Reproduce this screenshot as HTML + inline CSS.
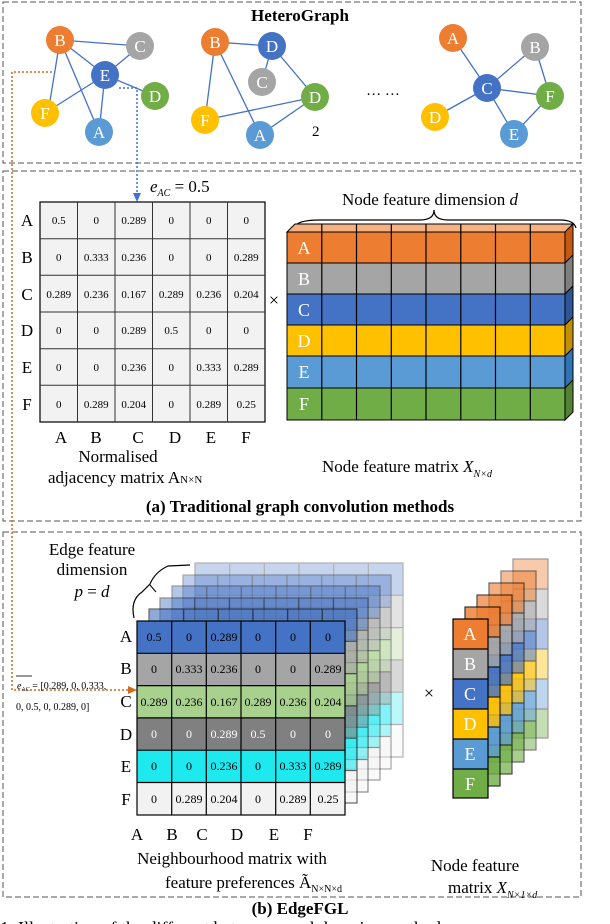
<!DOCTYPE html>
<html><head><meta charset="utf-8"><style>
html,body{margin:0;padding:0;background:#fff}
svg{display:block}
text{font-family:"Liberation Serif",serif}
</style></head><body>
<svg width="610" height="924" viewBox="0 0 610 924" xmlns="http://www.w3.org/2000/svg">
<defs>
<g id="bface">
 <rect x="137" y="621" width="208" height="32.3" fill="#4472c4"/>
 <rect x="137" y="653.3" width="208" height="32.3" fill="#a5a5a5"/>
 <rect x="137" y="685.6" width="208" height="32.3" fill="#a9d18e"/>
 <rect x="137" y="717.9" width="208" height="32.3" fill="#808080"/>
 <rect x="137" y="750.2" width="208" height="32.3" fill="#1de9ef"/>
 <rect x="137" y="782.5" width="208" height="32.5" fill="#f2f2f2"/>
 <path d="M171.7 621V815M206.3 621V815M241 621V815M275.7 621V815M310.3 621V815M137 653.3H345M137 685.6H345M137 717.9H345M137 750.2H345M137 782.5H345" stroke="#000" stroke-width="1.2" fill="none"/>
 <rect x="137" y="621" width="208" height="194" fill="none" stroke="#000" stroke-width="1.2"/>
</g>
<g id="sface">
 <rect x="453" y="619" width="35" height="30" fill="#ed7d31"/>
 <rect x="453" y="649" width="35" height="30" fill="#a5a5a5"/>
 <rect x="453" y="679" width="35" height="30" fill="#4472c4"/>
 <rect x="453" y="709" width="35" height="30" fill="#ffc000"/>
 <rect x="453" y="739" width="35" height="30" fill="#5b9bd5"/>
 <rect x="453" y="769" width="35" height="29" fill="#70ad47"/>
 <path d="M453 649H488M453 679H488M453 709H488M453 739H488M453 769H488" stroke="#000" stroke-width="1.2"/>
 <rect x="453" y="619" width="35" height="179" fill="none" stroke="#000" stroke-width="1.2"/>
</g>
</defs>

<!-- panel boxes -->
<rect x="3" y="2" width="578" height="161" fill="none" stroke="#555" stroke-dasharray="6,3"/>
<rect x="3" y="171" width="578" height="350" fill="none" stroke="#555" stroke-dasharray="6,3"/>
<rect x="3" y="532" width="578" height="365" fill="none" stroke="#555" stroke-dasharray="6,3"/>

<text x="300" y="21" font-size="17" font-weight="bold" text-anchor="middle">HeteroGraph</text>

<!-- graph edges -->
<g stroke="#4472c4" stroke-width="1.3">
 <line x1="60" y1="40" x2="140" y2="46"/><line x1="60" y1="40" x2="105" y2="75"/>
 <line x1="60" y1="40" x2="48" y2="113"/><line x1="60" y1="40" x2="99" y2="132"/>
 <line x1="105" y1="75" x2="140" y2="46"/><line x1="105" y1="75" x2="155" y2="96"/>
 <line x1="105" y1="75" x2="45" y2="113"/><line x1="105" y1="75" x2="99" y2="132"/>
 <line x1="215" y1="42" x2="272" y2="46"/><line x1="215" y1="42" x2="205" y2="120"/>
 <line x1="215" y1="42" x2="260" y2="135"/><line x1="272" y1="46" x2="262" y2="82"/>
 <line x1="272" y1="46" x2="315" y2="97"/><line x1="205" y1="120" x2="315" y2="97"/>
 <line x1="260" y1="135" x2="315" y2="97"/>
 <line x1="453" y1="38" x2="487" y2="88"/><line x1="487" y1="88" x2="535" y2="47"/>
 <line x1="487" y1="88" x2="550" y2="96"/><line x1="487" y1="88" x2="435" y2="117"/>
 <line x1="487" y1="88" x2="514" y2="134"/><line x1="535" y1="47" x2="550" y2="96"/>
 <line x1="550" y1="96" x2="514" y2="134"/>
</g>
<!-- nodes -->
<g font-size="17" fill="#fff" text-anchor="middle">
 <ellipse cx="60" cy="40" rx="14" ry="14" fill="#ed7d31"/><text x="60" y="46" fill="#fff">B</text>
 <ellipse cx="140" cy="46" rx="14" ry="14" fill="#a5a5a5"/><text x="140" y="52" fill="#fff">C</text>
 <ellipse cx="105" cy="75" rx="14" ry="14" fill="#4472c4"/><text x="105" y="81" fill="#fff">E</text>
 <ellipse cx="155" cy="96" rx="14" ry="14" fill="#70ad47"/><text x="155" y="102" fill="#fff">D</text>
 <ellipse cx="45" cy="113" rx="14" ry="14" fill="#ffc000"/><text x="45" y="119" fill="#fff">F</text>
 <ellipse cx="99" cy="132" rx="14" ry="14" fill="#5b9bd5"/><text x="99" y="138" fill="#fff">A</text>

 <ellipse cx="215" cy="42" rx="14" ry="14" fill="#ed7d31"/><text x="215" y="48" fill="#fff">B</text>
 <ellipse cx="272" cy="46" rx="14" ry="14" fill="#4472c4"/><text x="272" y="52" fill="#fff">D</text>
 <ellipse cx="262" cy="82" rx="14" ry="14" fill="#a5a5a5"/><text x="262" y="88" fill="#fff">C</text>
 <ellipse cx="315" cy="97" rx="14" ry="14" fill="#70ad47"/><text x="315" y="103" fill="#fff">D</text>
 <ellipse cx="205" cy="120" rx="14" ry="14" fill="#ffc000"/><text x="205" y="126" fill="#fff">F</text>
 <ellipse cx="260" cy="135" rx="14" ry="14" fill="#5b9bd5"/><text x="260" y="141" fill="#fff">A</text>

 <ellipse cx="453" cy="38" rx="14" ry="14" fill="#ed7d31"/><text x="453" y="44" fill="#fff">A</text>
 <ellipse cx="535" cy="47" rx="14" ry="14" fill="#a5a5a5"/><text x="535" y="53" fill="#fff">B</text>
 <ellipse cx="487" cy="88" rx="14" ry="14" fill="#4472c4"/><text x="487" y="94" fill="#fff">C</text>
 <ellipse cx="550" cy="96" rx="14" ry="14" fill="#70ad47"/><text x="550" y="102" fill="#fff">F</text>
 <ellipse cx="435" cy="117" rx="14" ry="14" fill="#ffc000"/><text x="435" y="123" fill="#fff">D</text>
 <ellipse cx="514" cy="134" rx="14" ry="14" fill="#5b9bd5"/><text x="514" y="140" fill="#fff">E</text>
</g>
<text x="312" y="136" font-size="15">2</text>
<text x="383" y="95" font-size="15" text-anchor="middle">… …</text>

<!-- dotted connectors -->
<path d="M52 72H12V690H128" fill="none" stroke="#d46a1c" stroke-width="1.5" stroke-dasharray="2,2"/>
<polygon points="137,690 128,686 128,694" fill="#d46a1c"/>
<path d="M119 88H137V194" fill="none" stroke="#3f72d4" stroke-width="1.5" stroke-dasharray="2,2"/>
<polygon points="137,202 133,193 141,193" fill="#3f72d4"/>

<!-- panel a matrix -->
<text x="150" y="192" font-size="17"><tspan font-style="italic">e</tspan><tspan font-size="10" font-style="italic" dy="4">AC</tspan><tspan dy="-4"> = 0.5</tspan></text>
<rect x="40" y="202" width="225" height="220" fill="#f2f2f2" stroke="#000" stroke-width="1.2"/>
<path d="M77.5 202V422M115 202V422M152.5 202V422M190 202V422M227.5 202V422M40 238.7H265M40 275.3H265M40 312H265M40 348.7H265M40 385.3H265" stroke="#333" stroke-width="1"/>
<g font-size="17" text-anchor="middle">
 <text x="27" y="226">A</text><text x="27" y="263">B</text><text x="27" y="300">C</text><text x="27" y="336">D</text><text x="27" y="373">E</text><text x="27" y="410">F</text>
 <text x="61" y="443">A</text><text x="96" y="443">B</text><text x="138" y="443">C</text><text x="175" y="443">D</text><text x="211" y="443">E</text><text x="246" y="443">F</text>
</g>
<g font-size="11" text-anchor="middle">
 <text x="58.8" y="224">0.5</text><text x="96.3" y="224">0</text><text x="133.8" y="224">0.289</text><text x="171.3" y="224">0</text><text x="208.8" y="224">0</text><text x="246.3" y="224">0</text>
 <text x="58.8" y="261">0</text><text x="96.3" y="261">0.333</text><text x="133.8" y="261">0.236</text><text x="171.3" y="261">0</text><text x="208.8" y="261">0</text><text x="246.3" y="261">0.289</text>
 <text x="58.8" y="298">0.289</text><text x="96.3" y="298">0.236</text><text x="133.8" y="298">0.167</text><text x="171.3" y="298">0.289</text><text x="208.8" y="298">0.236</text><text x="246.3" y="298">0.204</text>
 <text x="58.8" y="334">0</text><text x="96.3" y="334">0</text><text x="133.8" y="334">0.289</text><text x="171.3" y="334">0.5</text><text x="208.8" y="334">0</text><text x="246.3" y="334">0</text>
 <text x="58.8" y="371">0</text><text x="96.3" y="371">0</text><text x="133.8" y="371">0.236</text><text x="171.3" y="371">0</text><text x="208.8" y="371">0.333</text><text x="246.3" y="371">0.289</text>
 <text x="58.8" y="408">0</text><text x="96.3" y="408">0.289</text><text x="133.8" y="408">0.204</text><text x="171.3" y="408">0</text><text x="208.8" y="408">0.289</text><text x="246.3" y="408">0.25</text>
</g>
<text x="118" y="462" font-size="17" text-anchor="middle">Normalised</text>
<text x="48" y="483" font-size="17">adjacency matrix A<tspan font-size="11">N×N</tspan></text>
<text x="274" y="306" font-size="18" text-anchor="middle">×</text>

<!-- panel a feature matrix -->
<text x="430" y="205" font-size="17" text-anchor="middle">Node feature dimension <tspan font-style="italic">d</tspan></text>
<path d="M294 228Q296 220 320 220H420Q434 220 434 210Q434 220 448 220H560Q574 220 576 228" fill="none" stroke="#000" stroke-width="1.2"/>
<polygon points="287,232 295,224 573,224 565,232" fill="#f4b183" stroke="#000" stroke-width="1"/>
<g stroke="#000" stroke-width="1">
 <polygon points="565,232 573,224 573,255 565,263" fill="#c55a11"/>
 <polygon points="565,263 573,255 573,286 565,294" fill="#7f7f7f"/>
 <polygon points="565,294 573,286 573,317 565,325" fill="#2f5597"/>
 <polygon points="565,325 573,317 573,348 565,356" fill="#bf9000"/>
 <polygon points="565,356 573,348 573,380 565,388" fill="#2e75b6"/>
 <polygon points="565,388 573,380 573,412 565,420" fill="#548235"/>
 <rect x="287" y="232" width="278" height="31" fill="#ed7d31"/>
 <rect x="287" y="263" width="278" height="31" fill="#a5a5a5"/>
 <rect x="287" y="294" width="278" height="31" fill="#4472c4"/>
 <rect x="287" y="325" width="278" height="31" fill="#ffc000"/>
 <rect x="287" y="356" width="278" height="32" fill="#5b9bd5"/>
 <rect x="287" y="388" width="278" height="32" fill="#70ad47"/>
</g>
<path d="M321.8 224V420M356.5 224V420M391.3 224V420M426 224V420M460.8 224V420M495.5 224V420M530.3 224V420" stroke="#000" stroke-width="1.2"/>
<g font-size="18" fill="#fff" text-anchor="middle">
 <text x="304" y="254">A</text><text x="304" y="285">B</text><text x="304" y="316">C</text><text x="304" y="347">D</text><text x="304" y="378">E</text><text x="304" y="410">F</text>
</g>
<text x="322" y="472" font-size="17">Node feature matrix <tspan font-style="italic">X</tspan><tspan font-size="10" font-style="italic" dy="5">N×d</tspan></text>
<text x="300" y="512" font-size="17" font-weight="bold" text-anchor="middle">(a) Traditional graph convolution methods</text>

<!-- panel b -->
<text x="92" y="555" font-size="17" text-anchor="middle">Edge feature</text>
<text x="92" y="575" font-size="17" text-anchor="middle">dimension</text>
<text x="92" y="597" font-size="17" text-anchor="middle"><tspan font-style="italic">p</tspan> = <tspan font-style="italic">d</tspan></text>
<path d="M134 618Q130 600 142 592L150 584Q155 572 168 566L190 565" fill="none" stroke="#000" stroke-width="1.2"/>
<line x1="150" y1="585" x2="156" y2="592" stroke="#000"/>

<use href="#bface" transform="translate(58,-58)" opacity="0.3"/>
<use href="#bface" transform="translate(46,-46)" opacity="0.35"/>
<use href="#bface" transform="translate(35,-35)" opacity="0.4"/>
<use href="#bface" transform="translate(23,-23)" opacity="0.45"/>
<use href="#bface" transform="translate(12,-12)" opacity="0.6"/>
<use href="#bface"/>
<g font-size="12" text-anchor="middle">
 <text x="154" y="641">0.5</text><text x="189" y="641">0</text><text x="224" y="641">0.289</text><text x="258" y="641">0</text><text x="293" y="641">0</text><text x="328" y="641">0</text>
 <text x="154" y="673">0</text><text x="189" y="673">0.333</text><text x="224" y="673">0.236</text><text x="258" y="673">0</text><text x="293" y="673">0</text><text x="328" y="673">0.289</text>
 <text x="154" y="706">0.289</text><text x="189" y="706">0.236</text><text x="224" y="706">0.167</text><text x="258" y="706">0.289</text><text x="293" y="706">0.236</text><text x="328" y="706">0.204</text>
 <g fill="#fff"><text x="154" y="738">0</text><text x="189" y="738">0</text><text x="224" y="738">0.289</text><text x="258" y="738">0.5</text><text x="293" y="738">0</text><text x="328" y="738">0</text></g>
 <text x="154" y="770">0</text><text x="189" y="770">0</text><text x="224" y="770">0.236</text><text x="258" y="770">0</text><text x="293" y="770">0.333</text><text x="328" y="770">0.289</text>
 <text x="154" y="803">0</text><text x="189" y="803">0.289</text><text x="224" y="803">0.204</text><text x="258" y="803">0</text><text x="293" y="803">0.289</text><text x="328" y="803">0.25</text>
</g>
<g font-size="17" text-anchor="middle">
 <text x="126" y="642">A</text><text x="126" y="674">B</text><text x="126" y="707">C</text><text x="126" y="740">D</text><text x="126" y="772">E</text><text x="126" y="805">F</text>
 <text x="137" y="840">A</text><text x="172" y="840">B</text><text x="202" y="840">C</text><text x="237" y="840">D</text><text x="274" y="840">E</text><text x="308" y="840">F</text>
</g>
<text x="17" y="689" font-size="10"><tspan font-style="italic">e</tspan><tspan font-size="6" dy="2">AC</tspan><tspan dy="-2"> = [0.289, 0, 0.333,</tspan></text>
<line x1="16" y1="676" x2="32" y2="676" stroke="#000" stroke-width="0.8"/>
<text x="16" y="710" font-size="10">0, 0.5, 0, 0.289, 0]</text>
<text x="232" y="864" font-size="17" text-anchor="middle">Neighbourhood matrix with</text>
<text x="165" y="888" font-size="17">feature preferences Ã<tspan font-size="10" dy="4">N×N×d</tspan></text>
<text x="300" y="914" font-size="17" font-weight="bold" text-anchor="middle">(b) EdgeFGL</text>
<text x="429" y="699" font-size="18" text-anchor="middle">×</text>

<use href="#sface" transform="translate(60,-60)" opacity="0.4"/>
<use href="#sface" transform="translate(48,-48)" opacity="0.5"/>
<use href="#sface" transform="translate(36,-36)" opacity="0.6"/>
<use href="#sface" transform="translate(24,-24)" opacity="0.7"/>
<use href="#sface" transform="translate(12,-12)" opacity="0.8"/>
<use href="#sface"/>
<g font-size="18" fill="#fff" text-anchor="middle">
 <text x="470" y="640">A</text><text x="470" y="670">B</text><text x="470" y="700">C</text><text x="470" y="730">D</text><text x="470" y="760">E</text><text x="470" y="790">F</text>
</g>
<text x="475" y="871" font-size="17" text-anchor="middle">Node feature</text>
<text x="448" y="893" font-size="17">matrix <tspan font-style="italic">X</tspan><tspan font-size="10" font-style="italic" dy="5">N×1×d</tspan></text>

<text x="0" y="934" font-size="18">1.  Illustration of the different  between  graph  learning  methods</text>
</svg>
</body></html>
